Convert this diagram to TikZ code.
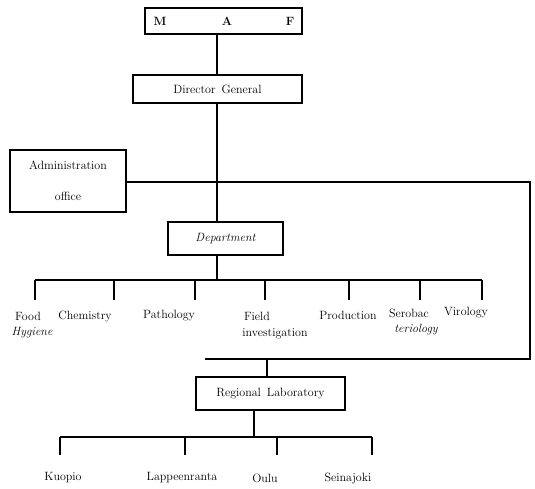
\documentclass[tikz,border=0pt]{standalone}
\begin{document}
\begin{tikzpicture}[x=1pt,y=-1pt,
  box/.style={draw,line width=1.1pt,minimum height=#1,inner sep=0pt},
  lbl/.style={font=\fontsize{12}{14}\selectfont,inner sep=0pt},
  ln/.style={line width=1.1pt}]
\useasboundingbox (0,0) rectangle (535,488);
% boxes
\node[box=26pt,minimum width=157pt] (maf) at (223.5,21) {};
\node[lbl,font=\bfseries\fontsize{12}{14}\selectfont] (m) at (160,21) {M};
\node[lbl,font=\bfseries\fontsize{12}{14}\selectfont] (a) at (227,21) {A};
\node[lbl,font=\bfseries\fontsize{12}{14}\selectfont] (f) at (290,21) {F};
\node[box=28pt,minimum width=169pt,lbl] (dg) at (217.5,89) {Director\enspace General};
\node[box=62pt,minimum width=116pt,lbl,align=center,font=\fontsize{12}{31}\selectfont] (adm) at (68,181) {Administration\\office};
\node[box=33pt,minimum width=115pt,lbl,font=\itshape\fontsize{12}{14}\selectfont] (dep) at (225.5,238.5) {Department};
\node[box=33pt,minimum width=149pt,lbl] (reg) at (270.5,393.5) {Regional\enspace Laboratory};
% coordinates
\coordinate (j1) at (217,182);
\coordinate (r1) at (530,182);
\coordinate (r2) at (530,359);
\coordinate (r3) at (205,359);
\coordinate (rj) at (267,359);
\coordinate (b1) at (217,280);
\coordinate (bl) at (35,280);
\coordinate (br) at (482,280);
% connectors top
\draw[ln] (maf.south -| 217,0) -- (dg.north -| 217,0);
\draw[ln] (dg.south -| 217,0) -- (dep.north -| 217,0);
\draw[ln] (adm.east |- j1) -- (r1) -- (r2) -- (r3);
\draw[ln] (dep.south -| b1) -- (b1);
\draw[ln] (bl) -- (br);
% departments
\foreach \x/\n in {35/t1,114/t2,195/t3,265/t4,349/t5,420/t6,482/t7}{
  \coordinate (\n a) at (\x,280);
  \coordinate (\n b) at (\x,300);
  \draw[ln] (\n a) -- (\n b);
}
\node[lbl] (food) at (28,316) {Food};
\node[lbl,font=\itshape\fontsize{12}{14}\selectfont] (hyg) at (32,333) {Hygiene};
\node[lbl] (chem) at (85,316) {Chemistry};
\node[lbl] (path) at (169,316) {Pathology};
\node[lbl] (field) at (257,316) {Field};
\node[lbl] (inv) at (275,334) {investigation};
\node[lbl] (prod) at (348,315) {Production};
\node[lbl] (sero) at (409,313) {Serobac};
\node[lbl,font=\itshape\fontsize{12}{14}\selectfont] (teri) at (416,330) {teriology};
\node[lbl] (viro) at (466,313) {Virology};
% regional
\draw[ln] (rj) -- (reg.north -| rj);
\coordinate (b2) at (254,437);
\draw[ln] (reg.south -| b2) -- (b2);
\coordinate (cl) at (60,437);
\coordinate (cr) at (372,437);
\draw[ln] (cl) -- (cr);
\foreach \x/\n in {60/u1,185/u2,277/u3,372/u4}{
  \coordinate (\n a) at (\x,437);
  \coordinate (\n b) at (\x,455);
  \draw[ln] (\n a) -- (\n b);
}
\node[lbl] (kuo) at (63,478) {Kuopio};
\node[lbl] (lap) at (182,478) {Lappeenranta};
\node[lbl] (oul) at (265,478) {Oulu};
\node[lbl] (sei) at (348,478) {Seinajoki};
\end{tikzpicture}
\end{document}
